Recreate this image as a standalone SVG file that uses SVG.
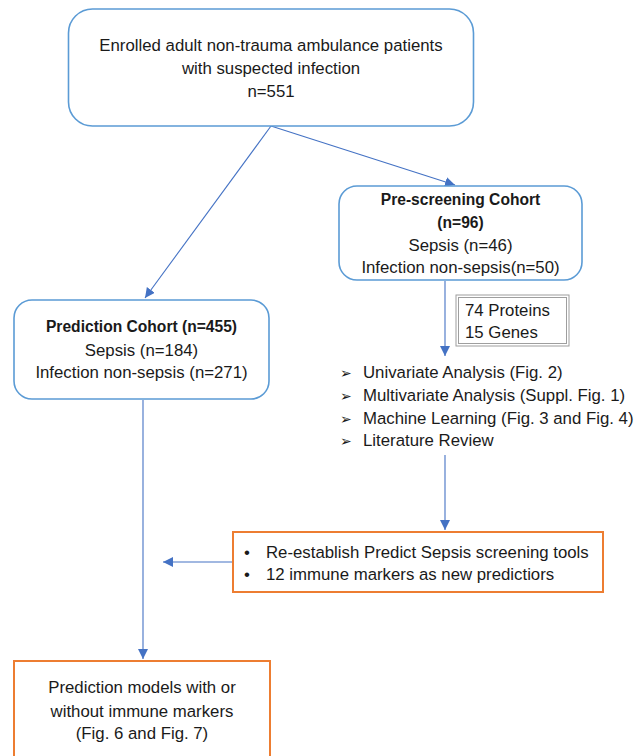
<svg xmlns="http://www.w3.org/2000/svg" width="634" height="756" viewBox="0 0 634 756">
<defs>
<marker id="ah" viewBox="0 0 10 10" refX="10" refY="5" markerWidth="10" markerHeight="10" markerUnits="userSpaceOnUse" orient="auto">
<path d="M0,0 L10,5 L0,10 z" fill="#4472C4"/>
</marker>
<style>
.t{font-family:"Liberation Sans",Arial,sans-serif;font-size:16.8px;fill:#1a1a1a;text-anchor:middle}
.b{font-weight:bold;font-size:15.6px}
.l{text-anchor:start}
.arr{font-family:"DejaVu Sans",sans-serif;font-size:14px;fill:#1a1a1a}
.blue{fill:#fff;stroke:#5B9BD5;stroke-width:1.6}
.orange{fill:#fff;stroke:#ED7D31;stroke-width:2}
.c{fill:none;stroke:#4472C4;stroke-width:1.1;marker-end:url(#ah)}
</style>
</defs>
<rect width="634" height="756" fill="#fff"/>
<g id="connectors">
<line class="c" x1="271" y1="126" x2="145" y2="298"/>
<line class="c" x1="271" y1="126" x2="455" y2="185"/>
<line class="c" x1="445" y1="281" x2="445" y2="356"/>
<line class="c" x1="445" y1="455" x2="445" y2="530"/>
<line class="c" x1="233" y1="562" x2="163" y2="562"/>
<line class="c" x1="143" y1="400" x2="143" y2="659"/>
</g>
<g id="enrolled">
<rect class="blue" x="68.5" y="9" width="405" height="117" rx="24"/>
<text class="t" x="271" y="51">Enrolled adult non-trauma ambulance patients</text>
<text class="t" x="271" y="74">with suspected infection</text>
<text class="t" x="271" y="97">n=551</text>
</g>
<g id="prescreening">
<rect class="blue" x="339" y="186" width="243" height="94" rx="18"/>
<text class="t b" x="460.5" y="205">Pre-screening Cohort</text>
<text class="t b" x="460.5" y="228">(n=96)</text>
<text class="t" x="460.5" y="251">Sepsis (n=46)</text>
<text class="t" x="460.5" y="273">Infection non-sepsis(n=50)</text>
</g>
<g id="prediction">
<rect class="blue" x="14" y="300" width="255" height="99" rx="18"/>
<text class="t b" x="141.5" y="332">Prediction Cohort (n=455)</text>
<text class="t" x="141.5" y="356">Sepsis (n=184)</text>
<text class="t" x="141.5" y="378">Infection non-sepsis (n=271)</text>
</g>
<g id="markers">
<rect x="456" y="295" width="113" height="51" fill="#fff" stroke="#9e9e9e" stroke-width="1"/>
<rect x="458.5" y="297.5" width="108" height="46" fill="none" stroke="#9e9e9e" stroke-width="1"/>
<text class="t l" x="465" y="316">74 Proteins</text>
<text class="t l" x="465" y="338">15 Genes</text>
</g>
<g id="analyses">
<text class="arr" x="340" y="378">➢</text>
<text class="t l" x="363" y="378">Univariate Analysis (Fig. 2)</text>
<text class="arr" x="340" y="401">➢</text>
<text class="t l" x="363" y="401">Multivariate Analysis (Suppl. Fig. 1)</text>
<text class="arr" x="340" y="424">➢</text>
<text class="t l" x="363" y="424">Machine Learning (Fig. 3 and Fig. 4)</text>
<text class="arr" x="340" y="446">➢</text>
<text class="t l" x="363" y="446">Literature Review</text>
</g>
<g id="reestablish">
<rect class="orange" x="233" y="532" width="370" height="60"/>
<text class="t l" x="244" y="558">•</text>
<text class="t l" x="266" y="558">Re-establish Predict Sepsis screening tools</text>
<text class="t l" x="244" y="580">•</text>
<text class="t l" x="266" y="580">12 immune markers as new predictiors</text>
</g>
<g id="models">
<rect class="orange" x="14" y="661" width="256" height="110"/>
<text class="t" x="142" y="693">Prediction models with or</text>
<text class="t" x="142" y="717">without immune markers</text>
<text class="t" x="142" y="739">(Fig. 6 and Fig. 7)</text>
</g>
</svg>
